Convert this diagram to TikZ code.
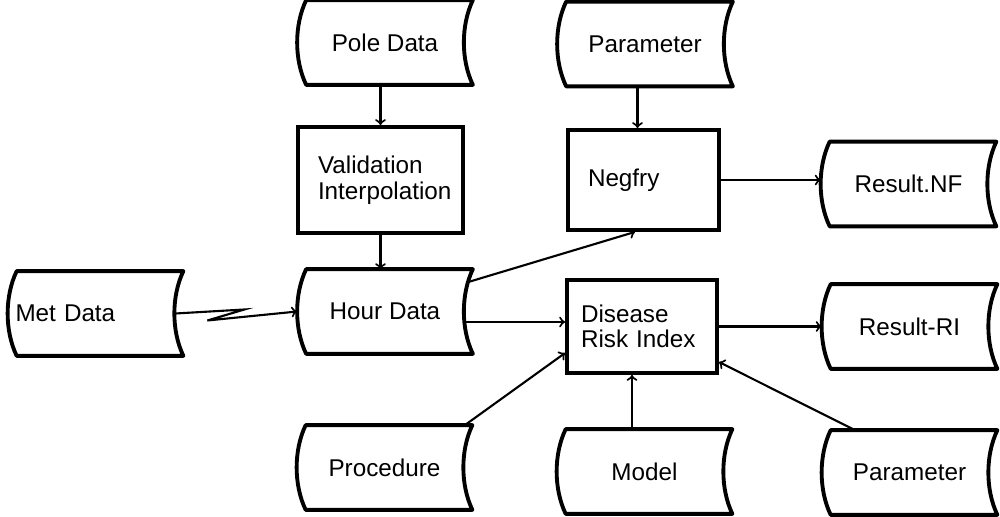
\documentclass[tikz,border=0pt]{standalone}
\usepackage{fontspec}
\setmainfont{Liberation Sans}
\usetikzlibrary{positioning,calc}

\tikzset{
  store/.style={minimum width=3.5cm, minimum height=1.68cm, inner sep=0pt,
    append after command={\pgfextra{\draw[line width=2.2pt, line join=round]
      ([xshift=.18cm]\tikzlastnode.north west) -- (\tikzlastnode.north east)
      .. controls +(-.24,-.5) and +(-.24,.5) .. (\tikzlastnode.south east)
      -- ([xshift=.18cm]\tikzlastnode.south west)
      .. controls +(-.24,.5) and +(-.24,-.5) .. ([xshift=.18cm]\tikzlastnode.north west) -- cycle;}}},
  task/.style={draw, line width=2.2pt, align=left, inner xsep=.4cm},
  link/.style={->, line width=1.2pt}
}

\begin{document}
\begin{tikzpicture}[font=\fontsize{13.8}{14.5}\selectfont]
\useasboundingbox (0,0) rectangle (20,-10.34);
\node[store, text width=3.2cm, align=left] (met) at (1.91,-6.27) {Met Data};
\node[store] (pole) at (7.70,-.85) {Pole Data};
\node[task, text width=2.5cm, minimum height=2.12cm] (valid) at (7.61,-3.60) {Validation\\Interpolation};
\node[store] (hour) at (7.70,-6.23) {Hour Data};
\node[store] (parA) at (12.90,-.88) {Parameter};
\node[task, text width=2.22cm, minimum height=2cm] (negfry) at (12.87,-3.60) {Negfry};
\node[store] (resnf) at (18.17,-3.68) {Result.NF};
\node[task, inner xsep=.28cm, text width=2.44cm, minimum height=1.86cm] (dri) at (12.84,-6.53) {Disease\\Risk Index};
\node[store] (resri) at (18.19,-6.53) {Result-RI};
\node[store] (procd) at (7.69,-9.35) {Procedure};
\node[store] (model) at (12.89,-9.43) {Model};
\node[store] (parB) at (18.19,-9.45) {Parameter};
\draw[link] (pole.south -| valid.north) -- (valid.north);
\draw[link] (valid.south) -- (valid.south |- hour.north);
\draw[link] ([xshift=-.12cm]negfry.north |- parA.south) -- ([xshift=-.12cm]negfry.north);
\draw[link] (negfry.east) -- (negfry.east -| resnf.west);
\draw[link] ([xshift=-.16cm]met.east) -- ++(1.38,.08) -- ++(-.74,-.22) -- (hour.west);
\draw[link] ([xshift=-.1cm,yshift=-.26cm]hour.north east) -- ([xshift=-.17cm]negfry.south);
\draw[link] ([xshift=-.17cm,yshift=-.21cm]hour.east) -- ([yshift=-.21cm]hour.east -| dri.west);
\draw[link] ([xshift=-.15cm]procd.north east) -- ([yshift=-.53cm]dri.west);
\draw[link] ([xshift=-.25cm]model.north) -- ([xshift=-.25cm]model.north |- dri.south);
\draw[link] ([xshift=-1.09cm]parB.north) -- ([yshift=-.71cm]dri.east);
\draw[link] (dri.east) -- (resri.west);
\end{tikzpicture}
\end{document}
